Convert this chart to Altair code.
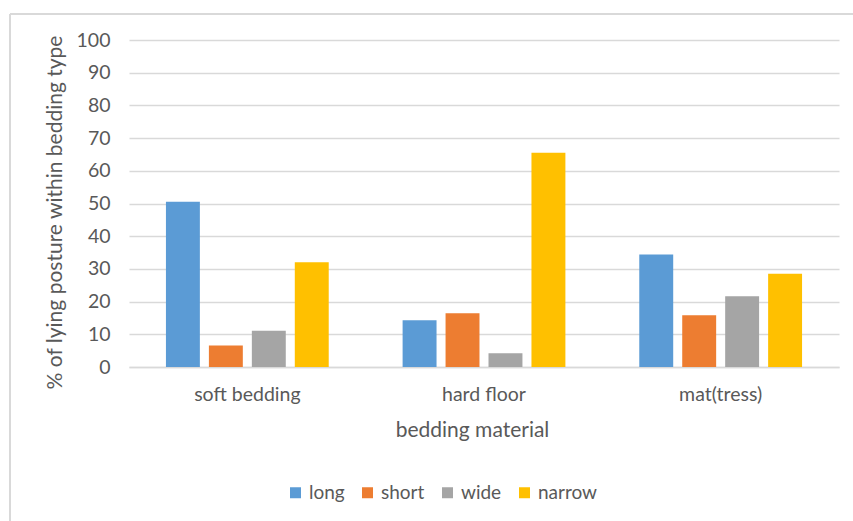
import altair as alt
import pandas as pd

# Lying posture shares (%) per bedding material
materials = ["soft bedding", "hard floor", "mat(tress)"]
postures = ["long", "short", "wide", "narrow"]
long_vals = [50.5, 14.3, 34.4]
short_vals = [6.6, 16.4, 15.8]
wide_vals = [11.1, 4.2, 21.6]
narrow_vals = [32.0, 65.5, 28.5]
colors = ["#5B9BD5", "#ED7D31", "#A5A5A5", "#FFC000"]
y_ticks = list(range(0, 101, 10))

series = {"long": long_vals, "short": short_vals, "wide": wide_vals, "narrow": narrow_vals}
rows = []
for p in postures:
    for m, v in zip(materials, series[p]):
        rows.append({"material": m, "posture": p, "pct": v})
df = pd.DataFrame(rows)

FONT = "Lato"
GREY = "#595959"
GRID = "#d9d9d9"

bars = alt.Chart(df).mark_bar().encode(
    x=alt.X(
        "material:N",
        sort=materials,
        scale=alt.Scale(paddingInner=0, paddingOuter=0),
        axis=alt.Axis(
            title="bedding material",
            labelAngle=0,
            labelFontSize=19.5,
            labelColor=GREY,
            labelPadding=18,
            titleFontSize=21,
            titleColor=GREY,
            titleFontWeight="normal",
            titlePadding=16,
            titleX=343,
            ticks=False,
            domainColor=GRID,
            domainWidth=1.5,
        ),
    ),
    xOffset=alt.XOffset(
        "posture:N",
        sort=postures,
        scale=alt.Scale(paddingInner=0.21, paddingOuter=0.86),
    ),
    y=alt.Y(
        "pct:Q",
        scale=alt.Scale(domain=[0, 100]),
        axis=alt.Axis(
            title="% of lying posture within bedding type",
            values=y_ticks,
            labelFontSize=19.5,
            labelColor=GREY,
            labelPadding=19,
            titleFontSize=21,
            titleColor=GREY,
            titleFontWeight="normal",
            titlePadding=11,
            titleY=172,
            ticks=False,
            domain=False,
            gridColor=GRID,
            gridWidth=1.5,
        ),
    ),
    color=alt.Color(
        "posture:N",
        sort=postures,
        scale=alt.Scale(domain=postures, range=colors),
        legend=alt.Legend(
            title=None,
            orient="none",
            direction="horizontal",
            legendX=157,
            legendY=443,
            symbolType="square",
            symbolSize=121,
            symbolStrokeWidth=0,
            labelFontSize=19,
            labelColor=GREY,
            labelOffset=4,
            columnPadding=13,
        ),
    ),
)

# Chart-area frame (top and left edges)
frame_left = alt.Chart().mark_rule(color=GRID, strokeWidth=2).encode(
    x=alt.value(-119), y=alt.value(-26), y2=alt.value(481)
)
frame_top = alt.Chart().mark_rule(color=GRID, strokeWidth=2).encode(
    x=alt.value(-119), x2=alt.value(724), y=alt.value(-26)
)

chart = (
    alt.layer(frame_left, frame_top, bars)
    .properties(
        width=710,
        height=327,
        autosize=alt.AutoSizeParams(type="none"),
        padding={"left": 129, "top": 40, "right": 14, "bottom": 154},
        background="white",
    )
    .configure(font=FONT)
    .configure_view(stroke=None)
)

chart.save("out.html", embed_options={"renderer": "svg", "actions": False})
